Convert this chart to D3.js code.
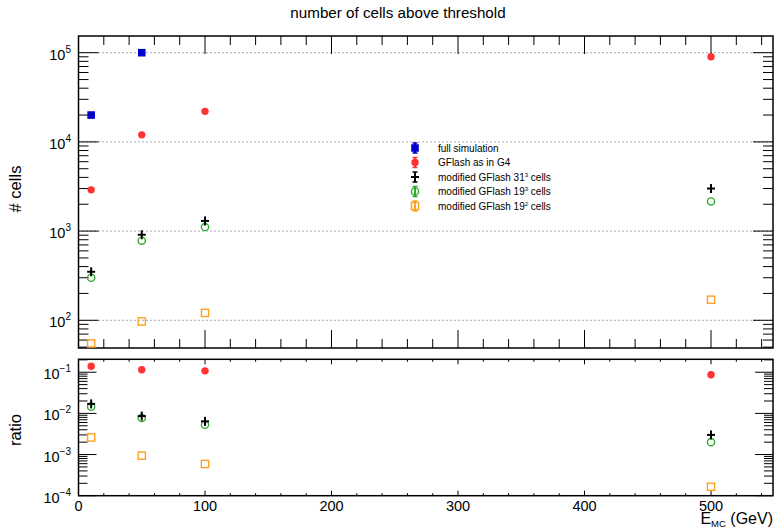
<!DOCTYPE html>
<html><head><meta charset="utf-8">
<script src="https://cdn.jsdelivr.net/npm/d3@7"></script>
<style>body{margin:0;background:#fff}text{font-family:"Liberation Sans",Arial,sans-serif;fill:#000}</style>
</head><body>
<script>
// ---- data ----
const energies = [10, 50, 100, 500];
const fullSim   = [20000, 100000, null, null];
const gflashG4  = [2900, 12000, 22000, 90000];
const mod31c    = [350, 910, 1300, 3000];
const mod19c    = [300, 780, 1110, 2150];
const mod19sq   = [55, 97, 121, 170];
const ratioG4   = [0.14, 0.115, 0.108, 0.087];
const ratio31c  = [0.017, 0.0086, 0.0064, 0.003];
const ratio19c  = [0.0145, 0.0077, 0.0053, 0.002];
const ratio19sq = [0.0026, 0.00094, 0.00059, 0.000165];
const xTickLabels = [0, 100, 200, 300, 400, 500];
const topDecades = [2, 3, 4, 5];
const botDecades = [-1, -2, -3, -4];
const legendLabels = [
  ["full simulation", ""],
  ["GFlash as in G4", ""],
  ["modified GFlash 31", "3", " cells"],
  ["modified GFlash 19", "3", " cells"],
  ["modified GFlash 19", "2", " cells"]
];

// ---- layout ----
const W = 775, H = 529;
const L = 78.5, R = 773;
const T1 = 36, B1 = 348, T2 = 359.3, B2 = 495.7;
const C = {blue:"#0000cc", red:"#ff3333", black:"#000", green:"#2eaa2e", orange:"#ffa01e"};

const svg = d3.select("body").append("svg").attr("width", W).attr("height", H);
const x = d3.scaleLinear().domain([0, 549]).range([L, R]);
const yT = d3.scaleLog().domain([48.9, 153900]).range([B1, T1]);
const yB = d3.scaleLog().domain([1e-4, 0.206]).range([B2, T2]);

// title
svg.append("text").attr("x", 398).attr("y", 18).attr("text-anchor", "middle")
  .attr("font-size", 15.2).text("number of cells above threshold");

function logTicks(scale) {
  const [a, b] = scale.domain();
  const out = [];
  for (let d = Math.floor(Math.log10(a)); d <= Math.ceil(Math.log10(b)); d++)
    for (let k = 1; k <= 9; k++) {
      const v = k * Math.pow(10, d);
      if (v >= a * 0.999 && v <= b * 1.001) out.push({v, major: k === 1});
    }
  return out;
}

function panel(y, top, bot, decades, xMaj, xMin, yMaj, yMin, grid) {
  const g = svg.append("g");
  if (grid) {
    decades.forEach(d => {
      g.append("line").attr("x1", L).attr("x2", R).attr("y1", y(Math.pow(10, d))).attr("y2", y(Math.pow(10, d)))
        .attr("stroke", "#555").attr("stroke-width", 1).attr("stroke-dasharray", "1,3");
    });
  }
  for (let v = 0; v <= 549; v += 20) {
    const len = v % 100 === 0 ? xMaj : xMin;
    const px = x(v);
    g.append("line").attr("x1", px).attr("x2", px).attr("y1", bot).attr("y2", bot - len).attr("stroke", "#000").attr("stroke-width", 1);
    g.append("line").attr("x1", px).attr("x2", px).attr("y1", top).attr("y2", top + len).attr("stroke", "#000").attr("stroke-width", 1);
  }
  logTicks(y).forEach(t => {
    const len = t.major ? yMaj : yMin;
    const py = y(t.v);
    g.append("line").attr("x1", L).attr("x2", L + len).attr("y1", py).attr("y2", py).attr("stroke", "#000").attr("stroke-width", 1);
    g.append("line").attr("x1", R).attr("x2", R - len).attr("y1", py).attr("y2", py).attr("stroke", "#000").attr("stroke-width", 1);
  });
  decades.forEach(d => {
    const t = g.append("text").attr("x", 71).attr("y", y(Math.pow(10, d)) + 7).attr("text-anchor", "end").attr("font-size", 14.5);
    t.append("tspan").text("10");
    t.append("tspan").attr("dy", -7).attr("font-size", 10).text(d < 0 ? "\u2212" + (-d) : d);
  });
  g.append("rect").attr("x", L).attr("y", top).attr("width", R - L).attr("height", bot - top)
    .attr("fill", "none").attr("stroke", "#000").attr("stroke-width", 1.5);
  return g;
}

panel(yT, T1, B1, topDecades, 18, 9, 20, 10, true);
panel(yB, T2, B2, botDecades, 5, 2.5, 18, 9, false);

xTickLabels.forEach(v => {
  svg.append("text").attr("x", x(v)).attr("y", 511).attr("text-anchor", "middle").attr("font-size", 14.5).text(v);
});
const xl = svg.append("text").attr("x", 773).attr("y", 524).attr("text-anchor", "end").attr("font-size", 16);
xl.append("tspan").text("E");
xl.append("tspan").attr("dy", 3).attr("font-size", 9.5).text("MC");
xl.append("tspan").attr("dy", -3).text(" (GeV)");

svg.append("text").attr("transform", "translate(21,189) rotate(-90)").attr("text-anchor", "middle").attr("font-size", 16.5).text("# cells");
svg.append("text").attr("transform", "translate(21,430) rotate(-90)").attr("text-anchor", "middle").attr("font-size", 16.5).text("ratio");

function marker(g, type, cx, cy) {
  if (type === 0) g.append("rect").attr("x", cx - 3.8).attr("y", cy - 3.8).attr("width", 7.6).attr("height", 7.6).attr("fill", C.blue);
  else if (type === 1) g.append("circle").attr("cx", cx).attr("cy", cy).attr("r", 3.7).attr("fill", C.red);
  else if (type === 2) {
    g.append("line").attr("x1", cx - 4).attr("x2", cx + 4).attr("y1", cy).attr("y2", cy).attr("stroke", C.black).attr("stroke-width", 2);
    g.append("line").attr("x1", cx).attr("x2", cx).attr("y1", cy - 4.5).attr("y2", cy + 4.5).attr("stroke", C.black).attr("stroke-width", 2);
  }
  else if (type === 3) g.append("circle").attr("cx", cx).attr("cy", cy).attr("r", 3.6).attr("fill", "none").attr("stroke", C.green).attr("stroke-width", 1.4);
  else if (type === 4) g.append("rect").attr("x", cx - 3.6).attr("y", cy - 3.6).attr("width", 7.2).attr("height", 7.2).attr("fill", "none").attr("stroke", C.orange).attr("stroke-width", 1.4);
}

const topSeries = [fullSim, gflashG4, mod31c, mod19c, mod19sq];
const botSeries = [null, ratioG4, ratio31c, ratio19c, ratio19sq];
const gm = svg.append("g");
[4, 3, 2, 1, 0].forEach(i => {
  topSeries[i].forEach((v, j) => { if (v != null) marker(gm, i, x(energies[j]), yT(v)); });
  if (botSeries[i]) botSeries[i].forEach((v, j) => { if (v != null) marker(gm, i, x(energies[j]), yB(v)); });
});

const lgColors = [C.blue, C.red, C.black, C.green, C.orange];
legendLabels.forEach((lab, i) => {
  const cy = 148 + i * 14.5;
  const mx = 415;
  svg.append("line").attr("x1", mx).attr("x2", mx).attr("y1", cy - 5).attr("y2", cy + 5).attr("stroke", lgColors[i]).attr("stroke-width", 2);
  svg.append("line").attr("x1", mx - 2.5).attr("x2", mx + 2.5).attr("y1", cy - 5).attr("y2", cy - 5).attr("stroke", lgColors[i]).attr("stroke-width", 1.5);
  svg.append("line").attr("x1", mx - 2.5).attr("x2", mx + 2.5).attr("y1", cy + 5).attr("y2", cy + 5).attr("stroke", lgColors[i]).attr("stroke-width", 1.5);
  marker(svg, i, mx, cy);
  const t = svg.append("text").attr("x", 438).attr("y", cy + 3.5).attr("font-size", 10);
  t.append("tspan").text(lab[0]);
  if (lab[1]) {
    t.append("tspan").attr("dy", -4).attr("font-size", 6).text(lab[1]);
    t.append("tspan").attr("dy", 4).text(lab[2]);
  }
});
</script>
</body></html>
